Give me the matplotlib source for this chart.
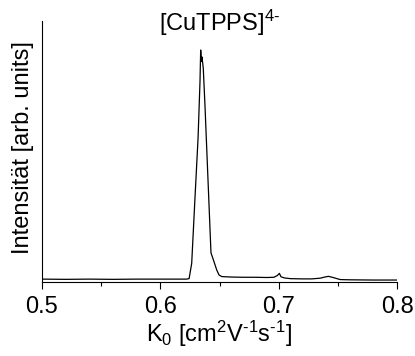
import matplotlib
matplotlib.use("Agg")
import matplotlib.pyplot as plt
from matplotlib.ticker import MultipleLocator

plt.rcParams['font.family'] = ['Liberation Sans', 'DejaVu Sans']
plt.rcParams['mathtext.fontset'] = 'custom'
plt.rcParams['mathtext.rm'] = 'Liberation Sans'
plt.rcParams['mathtext.it'] = 'Liberation Sans'
plt.rcParams['mathtext.bf'] = 'Liberation Sans:bold'

# Mobility spectrum of [CuTPPS]4- (normalised intensity)
k0 = [0.500, 0.520, 0.540, 0.560, 0.580, 0.600, 0.615, 0.622, 0.6243,
      0.6265, 0.6293, 0.6319, 0.6335, 0.6341, 0.6347, 0.6352, 0.6363,
      0.6378, 0.6397, 0.6420, 0.6428, 0.6448, 0.6477, 0.6496, 0.6519,
      0.656, 0.660, 0.670, 0.680, 0.690, 0.696, 0.699, 0.7006, 0.702,
      0.705, 0.710, 0.720, 0.728, 0.735, 0.739, 0.742, 0.746, 0.752,
      0.760, 0.780, 0.800]
intensity = [0.006, 0.005, 0.006, 0.005, 0.006, 0.006, 0.006, 0.006, 0.008,
             0.074, 0.36, 0.62, 0.86, 1.00, 0.95, 0.97, 0.92,
             0.75, 0.51, 0.22, 0.12, 0.09, 0.045, 0.024, 0.017,
             0.016, 0.015, 0.014, 0.014, 0.013, 0.014, 0.022, 0.031, 0.016,
             0.011, 0.008, 0.007, 0.007, 0.010, 0.015, 0.018, 0.013, 0.004,
             0.003, 0.002, 0.002]

title = r'[CuTPPS]$^{4\text{-}}$'
xlabel = r'K$_0$ [cm$^2$V$^{\text{-}1}$s$^{\text{-}1}$]'
ylabel = 'Intensität [arb. units]'

W, H = 415, 356
fig = plt.figure(figsize=(W / 100, H / 100), dpi=100)
ax = fig.add_axes([42 / W, (H - 282) / H, 355 / W, 261 / H])
ax.plot(k0, intensity, color='black', linewidth=0.9)

ax.set_xlim(0.5, 0.8)
ax.set_ylim(-1.5 / 230.5, 1 + 29 / 230.5)
ax.xaxis.set_major_locator(MultipleLocator(0.1))
ax.xaxis.set_minor_locator(MultipleLocator(0.05))
ax.set_yticks([])
for side in ('top', 'right'):
    ax.spines[side].set_visible(False)
for side in ('left', 'bottom'):
    ax.spines[side].set_linewidth(0.8)
ax.tick_params(axis='x', which='major', direction='out', length=5, width=0.8,
               labelsize=17, pad=5)
ax.tick_params(axis='x', which='minor', direction='out', length=3, width=0.8)

fig.text(219.5 / W, 1 - 31 / H, title, fontsize=17, ha='center', va='baseline')
fig.text(219.5 / W, 1 - 342 / H, xlabel, fontsize=17, ha='center', va='baseline')
fig.text(23 / W, 1 - 148 / H, ylabel, fontsize=17, rotation=90,
         ha='center', va='center')

fig.savefig('out.png', dpi=100)
